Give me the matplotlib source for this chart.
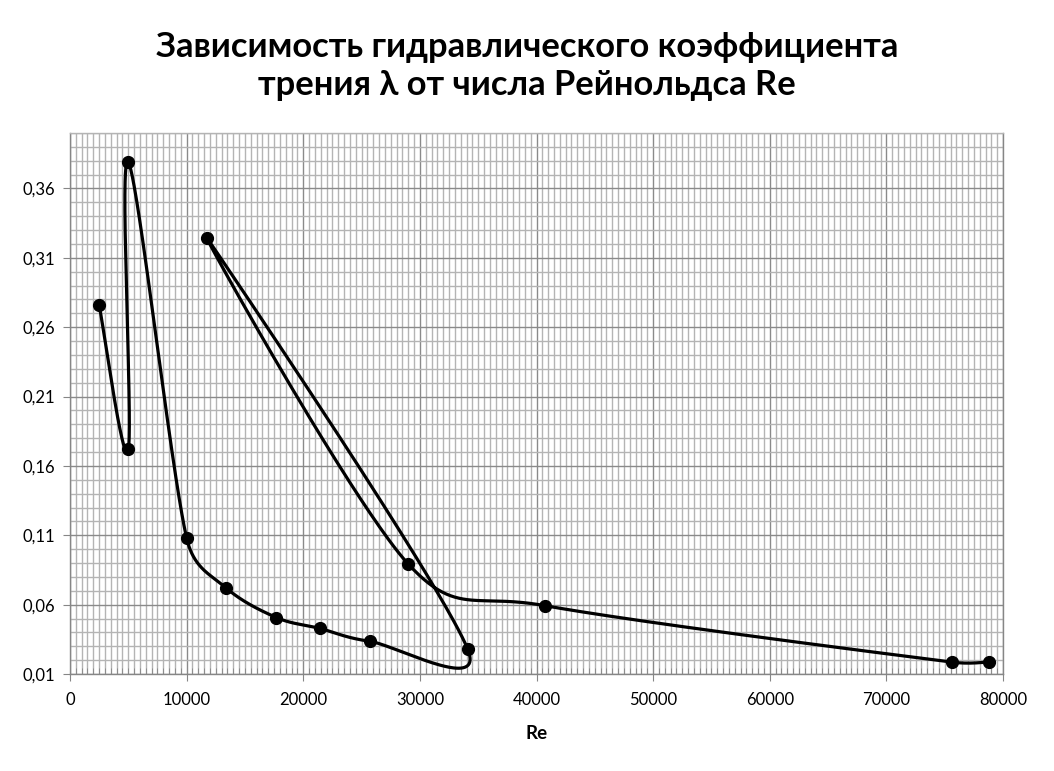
import numpy as np
import matplotlib
matplotlib.use("Agg")
import matplotlib.pyplot as plt
from matplotlib.ticker import MultipleLocator, FixedLocator, FuncFormatter

# Data (in drawing order)
re_values = [2500, 5000, 5000, 10000, 13400, 17700, 21400, 25700, 34100,
             11750, 29000, 40700, 75600, 78800]
lam_values = [0.276, 0.172, 0.379, 0.108, 0.072, 0.0507, 0.0429, 0.0336, 0.0279,
              0.3243, 0.0893, 0.0593, 0.0186, 0.0186]

title = "Зависимость гидравлического коэффициента\nтрения λ от числа Рейнольдса Re"
xlabel = "Re"
x_major = [0, 10000, 20000, 30000, 40000, 50000, 60000, 70000, 80000]
y_major = [0.01, 0.06, 0.11, 0.16, 0.21, 0.26, 0.31, 0.36]

plt.rcParams['font.family'] = ['Lato', 'DejaVu Sans']

fig = plt.figure(figsize=(10.54, 7.71), dpi=100)
ax = fig.add_axes([70/1054, 1-674/771, (1003-70)/1054, (674-133)/771])
ax.set_xlim(0, 80000)
ax.set_ylim(0.01, 0.40)

ax.xaxis.set_major_locator(FixedLocator(x_major))
ax.xaxis.set_minor_locator(MultipleLocator(500))
ax.yaxis.set_major_locator(FixedLocator(y_major))
ax.yaxis.set_minor_locator(FixedLocator(np.round(np.arange(0.01, 0.4001, 0.01), 3)))
ax.yaxis.set_major_formatter(FuncFormatter(lambda v, p: f"{v:.2f}".replace('.', ',')))
ax.xaxis.set_major_formatter(FuncFormatter(lambda v, p: f"{int(round(v))}"))

ax.grid(which='minor', color='#b4b4b4', linewidth=1.0)
ax.grid(which='major', color='#8a8a8a', linewidth=1.0)
ax.set_axisbelow(True)
ax.spines['top'].set_color('#b4b4b4')
for s in ['left', 'bottom', 'right']:
    ax.spines[s].set_color('#868686')
for s in ax.spines.values():
    s.set_linewidth(1.0)

ax.tick_params(which='major', direction='out', length=5, color='#868686',
               labelsize=12, pad=6)
ax.tick_params(axis='x', which='minor', direction='in', length=4, color='#868686')
ax.tick_params(axis='y', which='minor', length=0)
ax.tick_params(axis='x', which='major', pad=8)

# Smoothed line (Excel-like Bezier smoothing in display space)
pts = ax.transData.transform(np.column_stack([re_values, lam_values]))
n = len(pts)

def ctrl_offset(i, seg_len):
    prev = pts[i - 1] if i > 0 else pts[i]
    nxt = pts[i + 1] if i + 1 < n else pts[i]
    T = nxt - prev
    norm = np.hypot(*T)
    if norm == 0:
        return np.zeros(2)
    d = min(norm / 6.0, seg_len / 2.0)
    return T / norm * d

curve = []
t = np.linspace(0, 1, 80)[:, None]
for i in range(n - 1):
    p0 = pts[i]
    p3 = pts[i + 1]
    L = np.hypot(*(p3 - p0))
    c1 = p0 + ctrl_offset(i, L)
    c2 = p3 - ctrl_offset(i + 1, L)
    seg = ((1 - t) ** 3) * p0 + 3 * ((1 - t) ** 2) * t * c1 + 3 * (1 - t) * t ** 2 * c2 + t ** 3 * p3
    curve.append(seg if i == 0 else seg[1:])
curve = np.vstack(curve)
curve_data = ax.transData.inverted().transform(curve)
ax.plot(curve_data[:, 0], curve_data[:, 1], color='black', linewidth=2.3,
        solid_joinstyle='round', solid_capstyle='round', zorder=3)
ax.plot(re_values, lam_values, linestyle='none', marker='o', markersize=8.5,
        color='black', zorder=4)

ax.set_xlabel(xlabel, fontsize=13.5, fontweight='bold', labelpad=12)
fig.text(0.5, 1 - 66/771, title, ha='center', va='center', fontsize=24.8,
         fontweight='bold', linespacing=1.22)

fig.savefig('out.png', dpi=100)
